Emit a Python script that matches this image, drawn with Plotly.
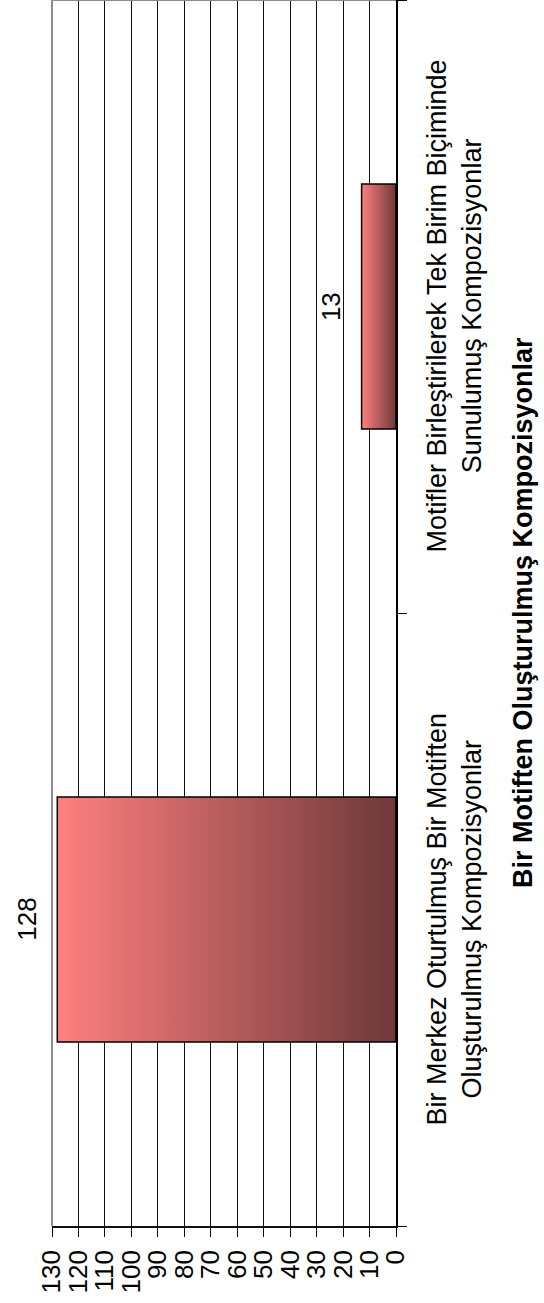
import plotly.graph_objects as go

# ---- data -------------------------------------------------------------
categories = [
    "Bir Merkez Oturtulmuş Bir Motiften<br>Oluşturulmuş Kompozisyonlar",
    "Motifler Birleştirilerek Tek Birim Biçiminde<br>Sunulumuş Kompozisyonlar",
]
values = [128, 13]
value_ticks = list(range(0, 131, 10))
axis_title = "Bir Motiften Oluşturulmuş Kompozisyonlar"

# ---- style ------------------------------------------------------------
FONT = "Liberation Sans, Arial, sans-serif"
W, H = 544, 1303
ML, MR, MT, MB = 52, 148, 0, 77
LIGHT = "#FF8080"
DARK = "#6E383A"
HALF = 0.2  # half bar thickness in category units (gap width 150%)

fig = go.Figure()

positions = list(range(len(categories)))
for pos, val in zip(positions, values):
    fig.add_trace(go.Scatter(
        x=[0, val, val, 0, 0],
        y=[pos - HALF, pos - HALF, pos + HALF, pos + HALF, pos - HALF],
        mode="lines",
        fill="toself",
        fillgradient=dict(type="horizontal", colorscale=[[0, LIGHT], [1, DARK]]),
        line=dict(color="black", width=1.5),
        hoverinfo="skip",
        showlegend=False,
    ))
    fig.add_annotation(
        x=val, y=pos, xref="x", yref="y", text=str(val), showarrow=False,
        textangle=-90, xanchor="right", xshift=-14,
        font=dict(family=FONT, size=26, color="black"),
    )

plot_w = W - ML - MR
for pos, cat in zip(positions, categories):
    fig.add_annotation(
        x=(454 - ML) / plot_w, y=pos, xref="paper", yref="y", text=cat,
        showarrow=False, textangle=-90, xanchor="center", align="center",
        font=dict(family=FONT, size=27, color="black"),
    )

fig.add_annotation(
    x=(523 - ML) / plot_w, y=0.5, xref="paper", yref="paper",
    text="<b>" + axis_title + "</b>", showarrow=False, textangle=-90,
    xanchor="center", font=dict(family=FONT, size=27, color="black"),
)

# gray plot-area border (left = top of value scale, top edge)
fig.add_shape(type="line", xref="paper", yref="paper", x0=0, x1=0, y0=0, y1=1,
              line=dict(color="#8C8C8C", width=2))
fig.add_shape(type="line", xref="paper", yref="paper", x0=0, x1=1, y0=1, y1=1,
              line=dict(color="#8C8C8C", width=2))

fig.update_xaxes(
    range=[130, 0], autorange=False,
    tickmode="array", tickvals=value_ticks, ticktext=[str(v) for v in value_ticks],
    ticks="outside", ticklen=9, tickcolor="black", tickwidth=1,
    showline=True, linecolor="#111111", linewidth=1.5,
    showgrid=True, gridcolor="#111111", gridwidth=1, zeroline=False,
    tickangle=-90, tickfont=dict(family=FONT, size=26, color="black"),
    ticklabelstandoff=3,
)
fig.update_yaxes(
    range=[-0.5, len(categories) - 0.5], autorange=False, side="right",
    tickmode="array", tickvals=positions, ticktext=["" for _ in positions], ticks="",
    minor=dict(tickmode="array", tickvals=[p - 0.5 for p in positions] + [len(positions) - 0.5],
               ticks="outside", ticklen=9, tickcolor="black", tickwidth=1, showgrid=False),
    showline=True, linecolor="black", linewidth=1.5,
    showgrid=False, zeroline=False,
)

fig.update_layout(
    width=W, height=H,
    margin=dict(l=ML, r=MR, t=MT, b=MB, pad=0),
    paper_bgcolor="white", plot_bgcolor="white",
    font=dict(family=FONT, color="black"),
    showlegend=False,
)

fig.write_html(
    "out.html",
    config={"displayModeBar": False},
    post_script="document.body.style.margin='0px';document.body.style.overflow='hidden';",
)
